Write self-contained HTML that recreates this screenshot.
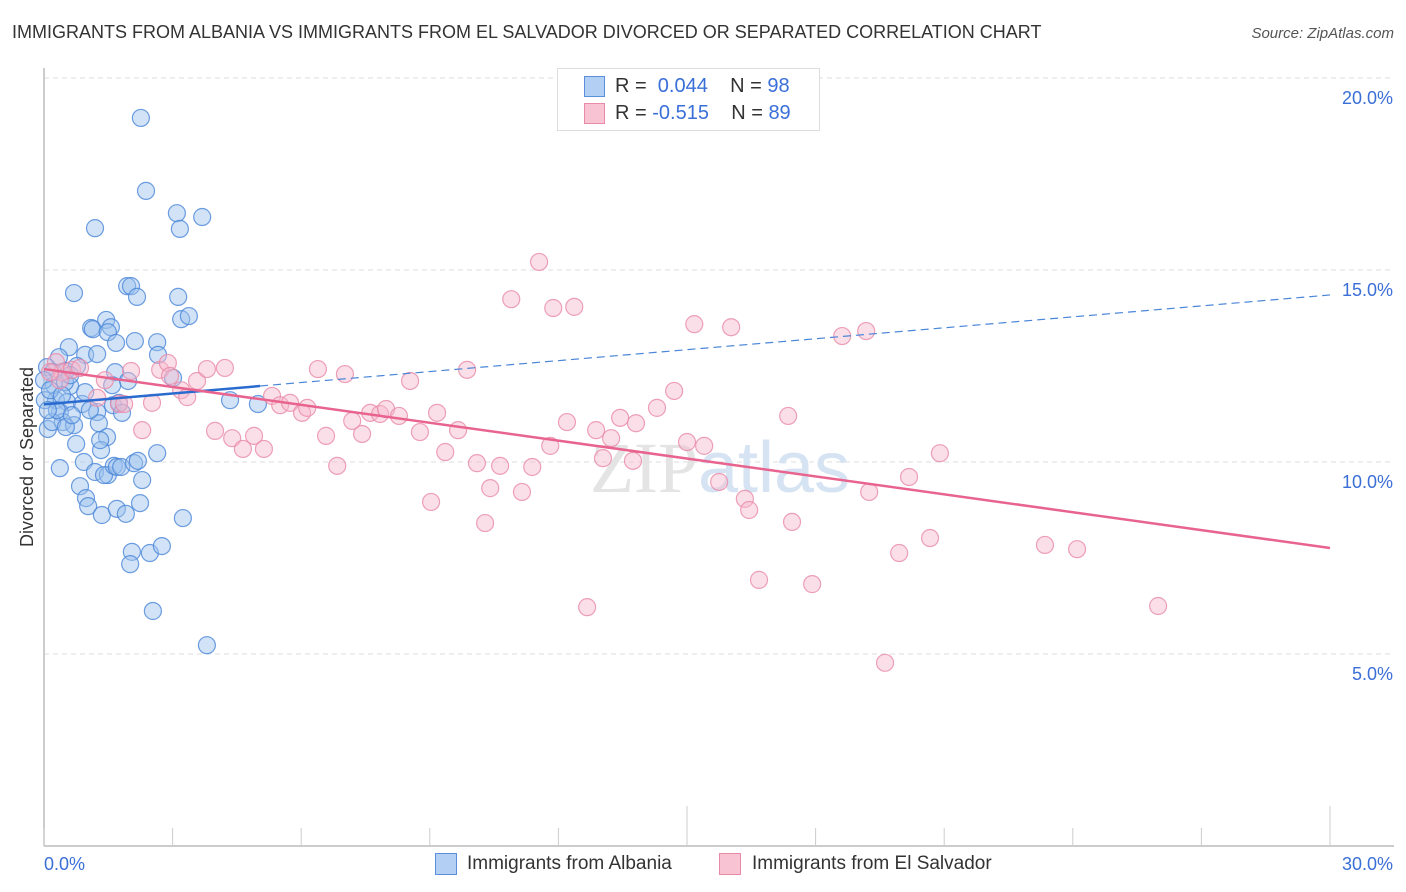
<!DOCTYPE html>
<html><head><meta charset="utf-8"><style>
body{margin:0;background:#fff;font-family:"Liberation Sans",sans-serif;}
#wrap{position:relative;width:1406px;height:892px;overflow:hidden;}
.t{position:absolute;white-space:nowrap;}
</style></head><body>
<div id="wrap">
<div class="t" style="left:12px;top:22px;font-size:18px;color:#333;">IMMIGRANTS FROM ALBANIA VS IMMIGRANTS FROM EL SALVADOR DIVORCED OR SEPARATED CORRELATION CHART</div>
<div class="t" style="right:12px;top:25px;font-size:15px;color:#555;font-style:italic;">Source: ZipAtlas.com</div>
<svg id="plot" width="1406" height="892" style="position:absolute;left:0;top:0"></svg>
</div>
<script>
const NS="http://www.w3.org/2000/svg";
const svg=document.getElementById('plot');
const yTicks=[5,10,15,20];
const yTickLabels=["5.0%","10.0%","15.0%","20.0%"];
const xEndLabels=["0.0%","30.0%"];
const albaniaX=[2.26,2.38,1.19,3.10,3.69,3.17,0.70,1.94,2.03,2.17,3.13,1.10,1.14,1.45,1.56,1.49,1.68,2.12,2.64,3.20,3.38,0.58,0.35,0.96,1.24,2.66,3.01,0.07,0.21,0.51,0.77,1.66,1.96,1.59,0.23,0.61,0.28,0.54,0.89,1.61,1.75,1.82,4.34,4.99,0.37,1.24,1.28,0.09,0.44,0.70,0.19,0.51,0.75,1.47,0.37,0.93,1.33,2.64,1.19,1.49,1.40,1.63,1.70,1.80,2.10,2.19,2.29,0.84,0.98,1.03,1.35,1.70,1.91,2.24,3.24,2.05,2.01,2.47,2.75,2.54,3.80,0.0,0.02,0.14,0.30,0.49,0.61,1.07,0.09,0.42,1.31,0.65,0.96];
const albaniaY=[18.96,17.06,16.09,16.48,16.38,16.07,14.40,14.58,14.58,14.30,14.30,13.49,13.46,13.70,13.51,13.38,13.10,13.15,13.12,13.72,13.80,12.99,12.73,12.79,12.81,12.79,12.19,12.47,12.34,12.37,12.50,12.34,12.11,12.00,12.00,11.98,11.61,11.56,11.51,11.48,11.54,11.28,11.61,11.51,11.30,11.30,11.01,10.86,11.04,10.96,11.04,10.91,10.47,10.65,9.84,10.00,10.31,10.23,9.74,9.66,9.66,9.90,9.87,9.87,9.97,10.03,9.53,9.37,9.06,8.85,8.62,8.78,8.65,8.93,8.54,7.66,7.34,7.63,7.81,6.12,5.23,12.13,11.61,11.87,11.35,12.08,12.26,11.35,11.35,11.74,10.57,11.22,11.82];
const salvX=[0.28,0.42,0.65,0.84,0.37,0.14,1.42,1.24,1.75,1.87,2.03,2.29,2.52,2.71,2.89,2.94,3.20,3.34,3.57,3.80,4.22,3.99,4.39,4.64,4.90,5.13,5.32,5.51,5.74,6.02,6.14,6.39,6.58,6.84,7.02,7.19,7.42,7.61,7.84,7.98,8.28,8.54,8.77,9.03,9.17,9.36,9.66,9.87,10.10,10.29,10.41,10.64,10.90,11.15,11.39,11.55,11.81,11.88,12.20,12.37,12.67,12.88,13.04,13.23,13.44,13.74,13.81,14.30,14.70,15.00,15.17,15.40,15.75,16.03,16.35,16.45,16.68,17.36,17.45,17.92,18.62,19.18,19.25,19.62,19.95,20.18,20.67,20.90,23.35,24.10,25.99];
const salvY=[12.60,12.34,12.40,12.45,12.13,12.34,12.13,11.67,11.51,11.51,12.37,10.83,11.54,12.40,12.58,12.24,11.87,11.69,12.11,12.42,12.45,10.81,10.62,10.34,10.68,10.34,11.72,11.48,11.54,11.28,11.41,12.42,10.68,9.90,12.29,11.07,10.73,11.28,11.25,11.38,11.20,12.11,10.78,8.96,11.28,10.26,10.83,12.40,9.97,8.41,9.32,9.90,14.24,9.22,9.87,15.21,10.42,14.01,11.04,14.04,6.22,10.83,10.10,10.62,11.15,10.03,11.01,11.41,11.85,10.52,13.59,10.42,9.48,13.51,9.04,8.75,6.93,11.20,8.44,6.82,13.28,13.41,9.22,4.77,7.63,9.61,8.02,10.23,7.84,7.73,6.25];
const albaniaTrend=[11.5,14.35]; // y at x=0 and x=30
const salvTrend=[12.42,7.76];
const X0=44,X1=1330,Y0=846,Y20=78;
const sx=v=>X0+(v/30)*(X1-X0);
const sy=v=>Y0-(v/20)*(Y0-Y20);
function el(tag,attrs){const e=document.createElementNS(NS,tag);for(const k in attrs)e.setAttribute(k,attrs[k]);svg.appendChild(e);return e;}
// gridlines
yTicks.forEach((t,i)=>{
 const g=el('line',{x1:X0,x2:1394,y1:sy(t),y2:sy(t),stroke:'#ddd','stroke-dasharray':'5,4'});
 
 
 const tx=el('text',{x:1393,y:sy(t)+26,'text-anchor':'end','font-size':18,fill:'#3a6fd8','font-family':'Liberation Sans, sans-serif'});
 tx.textContent=yTickLabels[i];
 
 
});
// axes
const ya=el('line',{x1:X0,x2:X0,y1:68,y2:Y0,stroke:'#bbb','stroke-width':1.5});


const xa=el('line',{x1:X0,x2:1394,y1:Y0,y2:Y0,stroke:'#bbb','stroke-width':1.5});


for(let i=0;i<=10;i++){
 const v=i*3;const long=(i==5||i==10);
 const tk=el('line',{x1:sx(v),x2:sx(v),y1:long?806:828,y2:Y0,stroke:'#ccc'});
 
 
}
[[0,'start'],[30,'end']].forEach((p,i)=>{
 const tx=el('text',{x:i==0?44:1393,y:870,'text-anchor':p[1],'font-size':18,fill:'#3a6fd8','font-family':'Liberation Sans, sans-serif'});
 tx.textContent=xEndLabels[i];
 
 
});
// y title
const yt=el('text',{x:0,y:0,transform:'translate(33,457) rotate(-90)','text-anchor':'middle','font-size':18,fill:'#333','font-family':'Liberation Sans, sans-serif'});
yt.textContent='Divorced or Separated';


// watermark
const wm=el('text',{x:720,y:492,'text-anchor':'middle','font-size':72,fill:'#e4e4e4','font-family':'Liberation Serif, serif'});
wm.innerHTML='ZIP<tspan fill="#d6e3f3" font-family="Liberation Sans, sans-serif">atlas</tspan>';


// points
function pts(xs,ys,fill,stroke,name){
 xs.forEach((x,i)=>{
  const c=el('circle',{cx:sx(x),cy:sy(ys[i]),r:8.5,fill:fill,'fill-opacity':0.45,stroke:stroke,'stroke-width':1.2,'stroke-opacity':0.8});
  
  
 });
}
pts(albaniaX,albaniaY,'#9cc0ee','#4a86d8','albania-point');
pts(salvX,salvY,'#f6b9cc','#e98aa8','el-salvador-point');
// trends
const ax=v=>albaniaTrend[0]+(albaniaTrend[1]-albaniaTrend[0])*v/30;
const bl=el('line',{x1:sx(0),y1:sy(ax(0)),x2:sx(5.04),y2:sy(ax(5.04)),stroke:'#2a6bd0','stroke-width':2.5});


const bd=el('line',{x1:sx(5.04),y1:sy(ax(5.04)),x2:sx(30),y2:sy(ax(30)),stroke:'#4a86d8','stroke-width':1.2,'stroke-dasharray':'8,5'});


const pl=el('line',{x1:sx(0),y1:sy(salvTrend[0]),x2:sx(30),y2:sy(salvTrend[1]),stroke:'#e8648f','stroke-width':2.5});


</script>
<div class="t" style="left:557px;top:68px;width:261px;height:61px;border:1px solid #ddd;background:#fff;">
 <div class="t" style="left:26px;top:7px;width:19px;height:19px;background:#b3cff3;border:1px solid #5b8fd9;"></div>
 <div class="t" style="left:57px;top:6px;font-size:20px;color:#333;">R = <span style="color:#3a6fd8">&nbsp;0.044</span>&nbsp;&nbsp;&nbsp; N = <span style="color:#3a6fd8">98</span></div>
 <div class="t" style="left:26px;top:34px;width:19px;height:19px;background:#f8c3d3;border:1px solid #e88aa8;"></div>
 <div class="t" style="left:57px;top:33px;font-size:20px;color:#333;">R = <span style="color:#3a6fd8">-0.515</span>&nbsp;&nbsp;&nbsp; N = <span style="color:#3a6fd8">89</span></div>
</div>
<div class="t" style="left:435px;top:853px;width:20px;height:20px;background:#b3cff3;border:1px solid #5b8fd9;"></div>
<div class="t" style="left:467px;top:853px;font-size:19px;color:#333;">Immigrants from Albania</div>
<div class="t" style="left:719px;top:853px;width:20px;height:20px;background:#f8c3d3;border:1px solid #e88aa8;"></div>
<div class="t" style="left:752px;top:853px;font-size:19px;color:#333;">Immigrants from El Salvador</div>
</body></html>
